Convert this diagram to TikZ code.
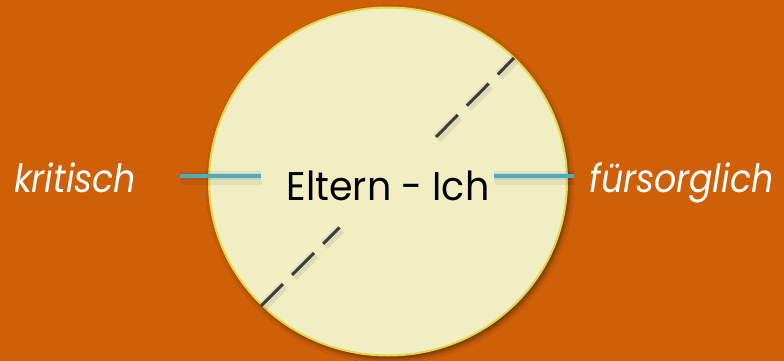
\documentclass[tikz,border=0pt]{standalone}
\usepackage{fontspec}
\setmainfont{Poppins}[FakeStretch=0.95]
\newfontfamily\sidefont{Poppins}[FakeStretch=0.89]
\usetikzlibrary{shapes.geometric,shadows.blur}
\definecolor{bgorange}{HTML}{D06008}
\definecolor{circfill}{HTML}{F2EEC4}
\definecolor{circedge}{HTML}{E3D84A}
\definecolor{linkblue}{HTML}{4BACC6}
\definecolor{dashgrey}{HTML}{3C3C3C}
\tikzset{
  bigcircle/.style={ellipse, fill=circfill, draw=circedge, line width=2pt,
    minimum width=358pt, minimum height=348pt, inner sep=0pt,
    blur shadow={shadow xshift=2pt, shadow yshift=-3pt, shadow blur radius=5pt, shadow opacity=55}},
  maintext/.style={font=\fontsize{40}{44}\selectfont, text=black, inner sep=0pt},
  sidetext/.style={font=\sidefont\fontsize{39}{44}\selectfont\itshape, text=white, inner sep=0pt},
  bluelink/.style={draw=linkblue, line width=4pt},
  linkshadow/.style={draw=black, opacity=0.06,
    preaction={draw=black, opacity=0.05, line width=10pt},
    preaction={draw=black, opacity=0.06, line width=7pt},
    line width=4pt},
  dashline/.style={draw=dashgrey, line width=3pt, dash pattern=on 31pt off 13pt},
  dashshadow/.style={draw=black, opacity=0.07, dash pattern=on 31pt off 13pt,
    preaction={draw=black, opacity=0.05, line width=7pt, dash pattern=on 31pt off 13pt},
    line width=4pt}
}
\begin{document}
\begin{tikzpicture}[x=1pt,y=-1pt]
\fill[bgorange] (0,0) rectangle (784,361);
\useasboundingbox (0,0) rectangle (784,361);
\node[bigcircle] (circ) at (388,181.5) {};
% dashed diagonal
\coordinate (d1a) at (261,306);
\coordinate (d1b) at (339.5,227.5);
\coordinate (d2a) at (436,137);
\coordinate (d2b) at (514,58);
\draw[dashshadow, transform canvas={shift={(3pt,-4pt)}}] (d1a) -- (d1b);
\draw[dashshadow, transform canvas={shift={(3pt,-4pt)}}] (d2a) -- (d2b);
\draw[dashline] (d1a) -- (d1b);
\draw[dashline] (d2a) -- (d2b);
% blue links
\coordinate (l1a) at (180,176);
\coordinate (l1b) at (261,176);
\coordinate (l2a) at (494,176);
\coordinate (l2b) at (574,176);
\draw[linkshadow, transform canvas={shift={(1pt,-7pt)}}] (l1a) -- (l1b);
\draw[linkshadow, transform canvas={shift={(1pt,-7pt)}}] (l2a) -- (l2b);
\draw[bluelink] (l1a) -- (l1b);
\draw[bluelink] (l2a) -- (l2b);
% texts
\node[maintext, anchor=base] (eltern) at (388,200) {Eltern - Ich};
\node[sidetext, anchor=base] (krit) at (75,192) {kritisch};
\node[sidetext, anchor=base] (fuer) at (681.5,192) {fürsorglich};
\end{tikzpicture}
\end{document}
